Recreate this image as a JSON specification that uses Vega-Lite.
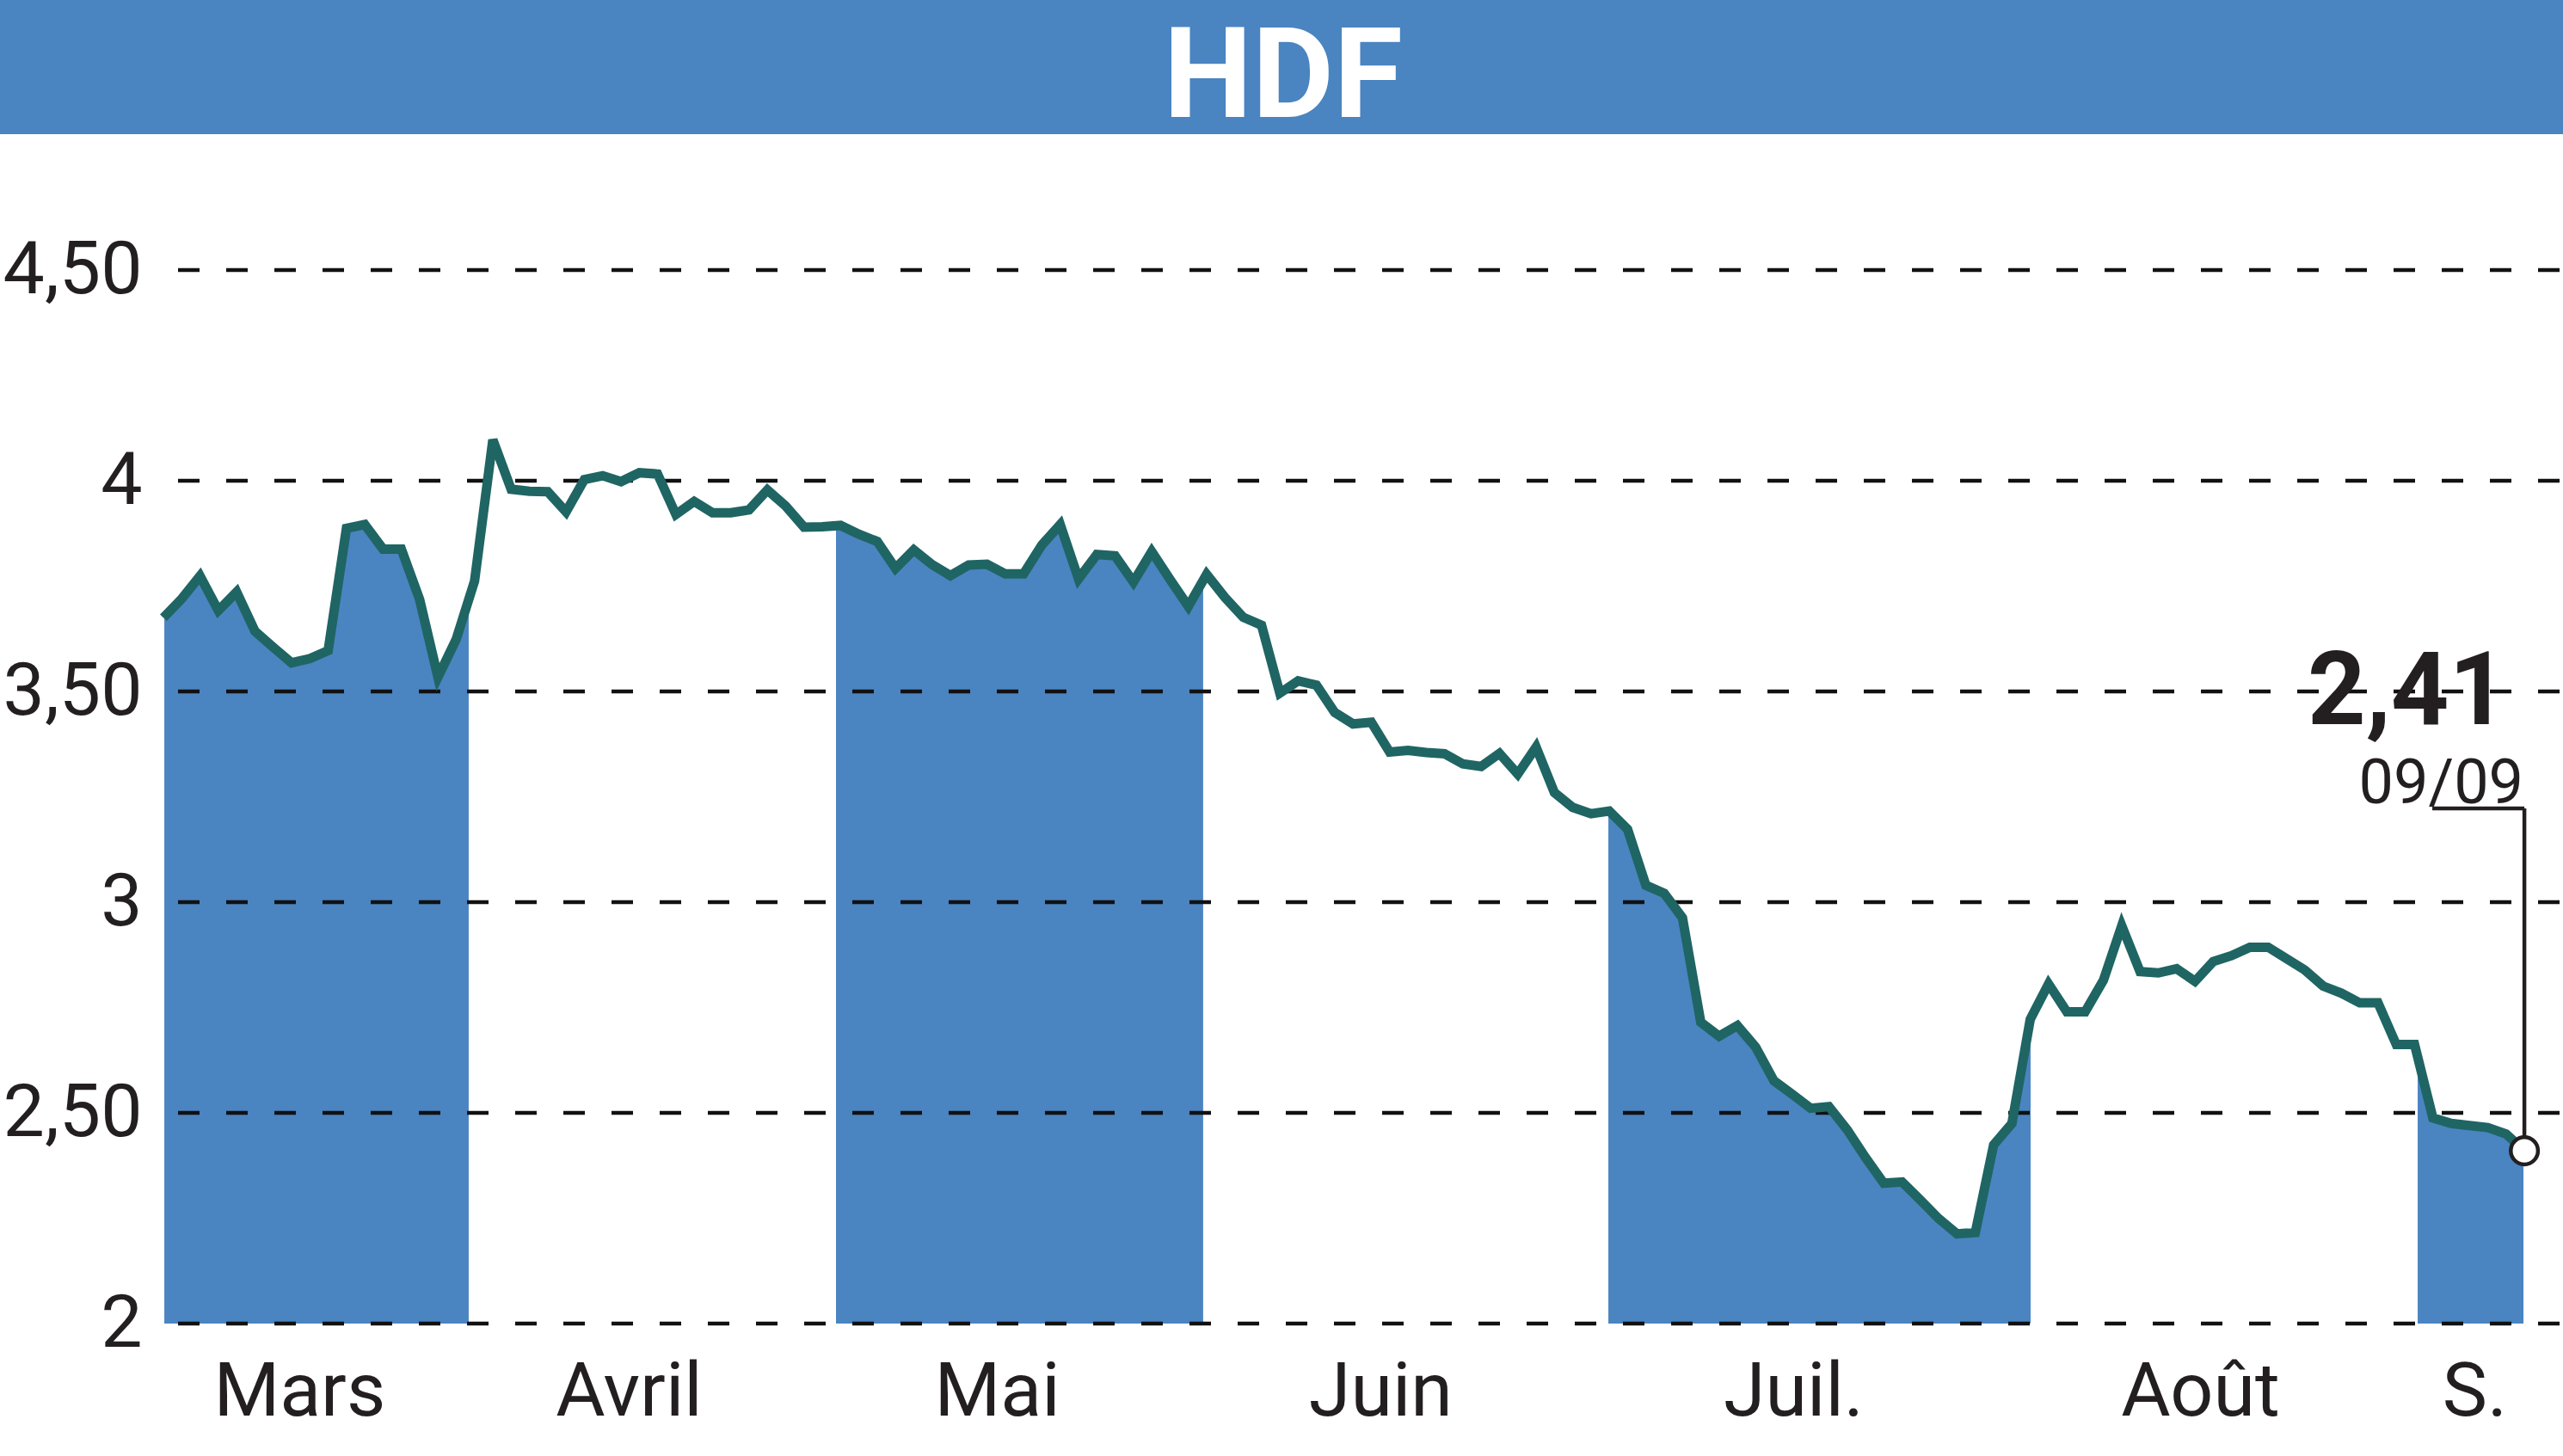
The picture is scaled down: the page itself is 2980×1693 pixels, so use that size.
{
  "$schema": "https://vega.github.io/schema/vega-lite/v6.json",
  "width": 2790,
  "height": 1225,
  "autosize": {"type": "none"},
  "padding": {"left": 190, "top": 314, "right": 0, "bottom": 154},
  "background": "white",
  "config": {
    "view": {"stroke": null},
    "axis": {"domain": false, "ticks": false, "grid": false, "labelColor": "#231f20", "labelFont": "Liberation Sans Narrow, Roboto, sans-serif", "tickSize": 0, "labelFlush": false, "labelOverlap": false, "labelLimit": 0}
  },
  "datasets": {
    "prices": [
      {"k":0,"v":3.675},{"k":1,"v":3.72},{"k":2,"v":3.774},{"k":3,"v":3.692},{"k":4,"v":3.736},{"k":5,"v":3.643},{"k":6,"v":3.605},{"k":7,"v":3.568},{"k":8,"v":3.578},{"k":9,"v":3.597},
      {"k":10,"v":3.887},{"k":11,"v":3.896},{"k":12,"v":3.838},{"k":13,"v":3.838},{"k":14,"v":3.718},{"k":15,"v":3.534},{"k":16,"v":3.624},{"k":17,"v":3.762},{"k":18,"v":4.097},{"k":19,"v":3.98},
      {"k":20,"v":3.975},{"k":21,"v":3.974},{"k":22,"v":3.926},{"k":23,"v":4.003},{"k":24,"v":4.012},{"k":25,"v":3.998},{"k":26,"v":4.019},{"k":27,"v":4.016},{"k":28,"v":3.92},{"k":29,"v":3.951},
      {"k":30,"v":3.924},{"k":31,"v":3.924},{"k":32,"v":3.931},{"k":33,"v":3.978},{"k":34,"v":3.94},{"k":35,"v":3.89},{"k":36,"v":3.891},{"k":37,"v":3.894},{"k":38,"v":3.873},{"k":39,"v":3.856},
      {"k":40,"v":3.792},{"k":41,"v":3.836},{"k":42,"v":3.801},{"k":43,"v":3.775},{"k":44,"v":3.8},{"k":45,"v":3.802},{"k":46,"v":3.779},{"k":47,"v":3.779},{"k":48,"v":3.848},{"k":49,"v":3.896},
      {"k":50,"v":3.767},{"k":51,"v":3.825},{"k":52,"v":3.822},{"k":53,"v":3.76},{"k":54,"v":3.832},{"k":55,"v":3.766},{"k":56,"v":3.702},{"k":57,"v":3.778},{"k":58,"v":3.723},{"k":59,"v":3.676},
      {"k":60,"v":3.657},{"k":61,"v":3.496},{"k":62,"v":3.525},{"k":63,"v":3.515},{"k":64,"v":3.45},{"k":65,"v":3.423},{"k":66,"v":3.427},{"k":67,"v":3.356},{"k":68,"v":3.36},{"k":69,"v":3.355},
      {"k":70,"v":3.352},{"k":71,"v":3.328},{"k":72,"v":3.322},{"k":73,"v":3.353},{"k":74,"v":3.304},{"k":75,"v":3.368},{"k":76,"v":3.26},{"k":77,"v":3.225},{"k":78,"v":3.21},{"k":79,"v":3.216},
      {"k":80,"v":3.173},{"k":81,"v":3.04},{"k":82,"v":3.021},{"k":83,"v":2.963},{"k":84,"v":2.715},{"k":85,"v":2.682},{"k":86,"v":2.707},{"k":87,"v":2.656},{"k":88,"v":2.576},{"k":89,"v":2.544},
      {"k":90,"v":2.511},{"k":91,"v":2.515},{"k":92,"v":2.46},{"k":93,"v":2.394},{"k":94,"v":2.333},{"k":95,"v":2.336},{"k":96,"v":2.293},{"k":97,"v":2.249},{"k":98,"v":2.213},{"k":99,"v":2.216},
      {"k":100,"v":2.424},{"k":101,"v":2.475},{"k":102,"v":2.722},{"k":103,"v":2.806},{"k":104,"v":2.74},{"k":105,"v":2.74},{"k":106,"v":2.815},{"k":107,"v":2.944},{"k":108,"v":2.835},{"k":109,"v":2.832},
      {"k":110,"v":2.842},{"k":111,"v":2.812},{"k":112,"v":2.859},{"k":113,"v":2.873},{"k":114,"v":2.893},{"k":115,"v":2.893},{"k":116,"v":2.866},{"k":117,"v":2.839},{"k":118,"v":2.801},{"k":119,"v":2.784},
      {"k":120,"v":2.761},{"k":121,"v":2.761},{"k":122,"v":2.662},{"k":123,"v":2.662},{"k":124,"v":2.488},{"k":125,"v":2.475},{"k":126,"v":2.47},{"k":127,"v":2.465},{"k":128,"v":2.45},
      {"k":129,"v":2.41,"date":"09/09","label":"2,41"}
    ],
    "months": [
      {"month":"Mars","start":0.05,"end":16.68,"shaded":true},
      {"month":"Avril","start":16.68,"end":36.75,"shaded":false},
      {"month":"Mai","start":36.75,"end":56.81,"shaded":true},
      {"month":"Juin","start":56.81,"end":78.95,"shaded":false},
      {"month":"Juil.","start":78.95,"end":102.02,"shaded":true},
      {"month":"Août","start":102.02,"end":123.17,"shaded":false},
      {"month":"S.","start":123.17,"end":128.95,"shaded":true}
    ],
    "grid": [{"g":2},{"g":2.5},{"g":3},{"g":3.5},{"g":4},{"g":4.5}],
    "banner": [{"name":"HDF"}]
  },
  "layer": [
    {
      "data": {"name": "months"},
      "transform": [{"filter": "datum.shaded"}],
      "mark": {"type": "rect", "color": "#4a84c1"},
      "encoding": {
        "x": {"field": "start", "type": "quantitative", "scale": {"domain": [0, 131.11], "nice": false, "zero": false},
          "axis": {"values": [7.42, 25.42, 45.54, 66.49, 89.05, 111.28, 126.27], "title": null,
            "labelExpr": "datum.value < 15 ? 'Mars' : datum.value < 35 ? 'Avril' : datum.value < 55 ? 'Mai' : datum.value < 78 ? 'Juin' : datum.value < 100 ? 'Juil.' : datum.value < 120 ? 'Août' : 'S.'",
            "labelFontSize": 88, "labelBaseline": "alphabetic", "labelAlign": "center", "labelPadding": 106, "labelLimit": 0}},
        "x2": {"field": "end"},
        "y": {"datum": 2, "type": "quantitative", "scale": {"domain": [2, 4.5], "nice": false, "zero": false},
          "axis": {"values": [2, 2.5, 3, 3.5, 4, 4.5], "title": null,
            "labelExpr": "datum.value == floor(datum.value) ? format(datum.value, 'd') : replace(format(datum.value, '.2f'), '.', ',')",
            "labelFontSize": 86, "labelBaseline": "middle", "labelAlign": "right", "labelPadding": 25, "labelLimit": 0}},
        "y2": {"datum": 4.5}
      }
    },
    {
      "data": {"name": "prices"},
      "mark": {"type": "area", "color": "white", "opacity": 1},
      "encoding": {
        "x": {"field": "k", "type": "quantitative", "scale": {"domain": [0, 131.11], "nice": false, "zero": false}},
        "y": {"field": "v", "type": "quantitative", "scale": {"domain": [2, 4.5], "nice": false, "zero": false}},
        "y2": {"datum": 4.5}
      }
    },
    {
      "data": {"name": "grid"},
      "mark": {"type": "rule", "color": "#111111", "strokeWidth": 4.3, "strokeDash": [25, 31], "strokeDashOffset": -4},
      "encoding": {
        "y": {"field": "g", "type": "quantitative", "scale": {"domain": [2, 4.5], "nice": false, "zero": false}}
      }
    },
    {
      "data": {"name": "prices"},
      "mark": {"type": "line", "color": "#1f6563", "strokeWidth": 11, "strokeJoin": "miter", "strokeCap": "butt"},
      "encoding": {
        "x": {"field": "k", "type": "quantitative", "scale": {"domain": [0, 131.11], "nice": false, "zero": false}},
        "y": {"field": "v", "type": "quantitative", "scale": {"domain": [2, 4.5], "nice": false, "zero": false}}
      }
    },
    {
      "data": {"name": "prices"},
      "transform": [{"filter": "datum.k == 129"}],
      "mark": {"type": "rule", "color": "#231f20", "strokeWidth": 4.5},
      "encoding": {
        "x": {"field": "k", "type": "quantitative", "scale": {"domain": [0, 131.11], "nice": false, "zero": false}},
        "y": {"datum": 3.2224, "type": "quantitative", "scale": {"domain": [2, 4.5], "nice": false, "zero": false}},
        "y2": {"datum": 2.41}
      }
    },
    {
      "data": {"name": "prices"},
      "transform": [{"filter": "datum.k == 129"}],
      "mark": {"type": "rule", "color": "#231f20", "strokeWidth": 4.5},
      "encoding": {
        "x": {"field": "k", "type": "quantitative", "scale": {"domain": [0, 131.11], "nice": false, "zero": false}},
        "x2": {"datum": 123.97},
        "y": {"datum": 3.2224, "type": "quantitative", "scale": {"domain": [2, 4.5], "nice": false, "zero": false}}
      }
    },
    {
      "data": {"name": "prices"},
      "transform": [{"filter": "datum.k == 129"}],
      "mark": {"type": "point", "shape": "circle", "filled": true, "fill": "white", "stroke": "#231f20", "strokeWidth": 4.5, "size": 1000, "opacity": 1},
      "encoding": {
        "x": {"field": "k", "type": "quantitative", "scale": {"domain": [0, 131.11], "nice": false, "zero": false}},
        "y": {"field": "v", "type": "quantitative", "scale": {"domain": [2, 4.5], "nice": false, "zero": false}}
      }
    },
    {
      "data": {"name": "prices"},
      "transform": [{"filter": "datum.k == 129"}],
      "mark": {"type": "text", "align": "right", "baseline": "alphabetic", "font": "Liberation Sans Narrow, Roboto, sans-serif", "fontWeight": "bold", "fontSize": 118, "color": "#231f20", "dx": -20},
      "encoding": {
        "x": {"field": "k", "type": "quantitative", "scale": {"domain": [0, 131.11], "nice": false, "zero": false}},
        "y": {"datum": 3.4224, "type": "quantitative", "scale": {"domain": [2, 4.5], "nice": false, "zero": false}},
        "text": {"field": "label", "type": "nominal"}
      }
    },
    {
      "data": {"name": "prices"},
      "transform": [{"filter": "datum.k == 129"}],
      "mark": {"type": "text", "align": "right", "baseline": "alphabetic", "font": "Liberation Sans Narrow, Roboto, sans-serif", "fontSize": 72, "color": "#231f20", "dx": -1},
      "encoding": {
        "x": {"field": "k", "type": "quantitative", "scale": {"domain": [0, 131.11], "nice": false, "zero": false}},
        "y": {"datum": 3.2347, "type": "quantitative", "scale": {"domain": [2, 4.5], "nice": false, "zero": false}},
        "text": {"field": "date", "type": "nominal"}
      }
    },
    {
      "data": {"name": "banner"},
      "mark": {"type": "rect", "color": "#4a84c1"},
      "encoding": {
        "x": {"datum": -8.93, "type": "quantitative", "scale": {"domain": [0, 131.11], "nice": false, "zero": false}},
        "x2": {"datum": 131.11},
        "y": {"datum": 4.8224, "type": "quantitative", "scale": {"domain": [2, 4.5], "nice": false, "zero": false}},
        "y2": {"datum": 5.1408}
      }
    },
    {
      "data": {"name": "banner"},
      "mark": {"type": "text", "align": "center", "baseline": "alphabetic", "font": "Liberation Sans Narrow, Roboto, sans-serif", "fontWeight": "bold", "fontSize": 146, "color": "white"},
      "encoding": {
        "x": {"datum": 61.18, "type": "quantitative", "scale": {"domain": [0, 131.11], "nice": false, "zero": false}},
        "y": {"datum": 4.8633, "type": "quantitative", "scale": {"domain": [2, 4.5], "nice": false, "zero": false}},
        "text": {"field": "name", "type": "nominal"}
      }
    }
  ]
}
